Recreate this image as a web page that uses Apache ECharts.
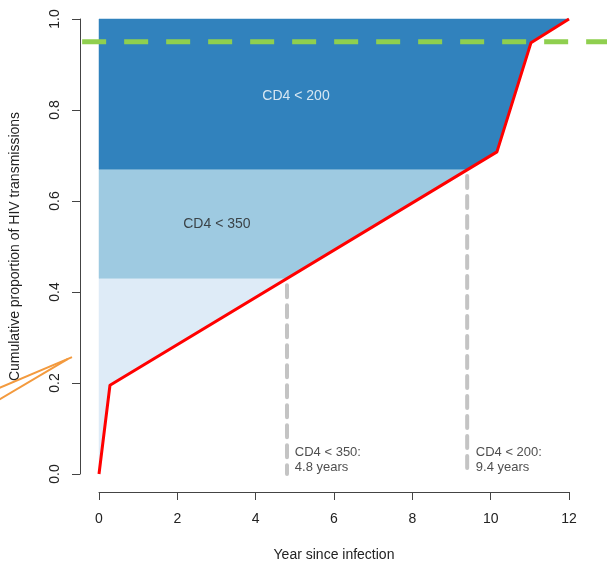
<!DOCTYPE html>
<html>
<head>
<meta charset="utf-8">
<script src="https://cdn.jsdelivr.net/npm/echarts@6/dist/echarts.min.js"></script>
<style>
html,body{margin:0;padding:0;background:#fff;}
#chart{width:607px;height:562px;}
</style>
</head>
<body>
<div id="chart"></div>
<script>
// ---- data ----
const curveX = [0, 0.28, 10.16, 11.03, 12];
const curveY = [0, 0.195, 0.708, 0.948, 1];
const bandBreaks = [0, 0.43, 0.67, 1];
const bandCrossX = [0, 4.8, 9.4, 12];
const bandColors = ['#deebf7', '#9ecae1', '#3182bd'];
const thresholdY = 0.95;
const thresholdSpan = [-0.43, 13.5];
const markYears = [4.8, 9.4];
const markTopY = [0.415, 0.655];
const markLabels = ['CD4 < 350:\n4.8 years', 'CD4 < 200:\n9.4 years'];
const markLabelPos = [[5.0, 0.032], [9.62, 0.032]];
const bandLabels = ['CD4 < 200', 'CD4 < 350'];
const bandLabelPos = [[5.03, 0.83], [3.01, 0.55]];
const bandLabelColors = ['#ffffff', '#222222'];
const strayLineA = [[-2.6, 0.187], [-0.689, 0.257]];
const strayLineB = [[-2.6, 0.161], [-0.791, 0.253]];
const xTicks = {min: 0, max: 12, interval: 2};
const yTicks = {min: 0, max: 1, interval: 0.2};

const FONT = 'Liberation Sans, Arial, sans-serif';

function bandPolygon(i) {
  const lo = bandBreaks[i], hi = bandBreaks[i + 1];
  const pts = [[0, lo], [0, hi], [bandCrossX[i + 1], hi]];
  for (let k = curveX.length - 1; k >= 0; k--) {
    if (curveY[k] < hi && curveY[k] > lo) pts.push([curveX[k], curveY[k]]);
  }
  pts.push([bandCrossX[i], lo]);
  return pts;
}

function segmentSeries(points, style, z) {
  return {
    type: 'custom', z: z, silent: true, clip: false,
    data: [[0]],
    renderItem: function (params, api) {
      return {
        type: 'polyline',
        shape: {points: points.map(p => api.coord(p))},
        style: Object.assign({fill: null}, style)
      };
    }
  };
}

const series = [];
series.push({
  type: 'custom',
  z: 1,
  silent: true,
  data: bandColors.map((c, i) => [i]),
  renderItem: function (params, api) {
    const i = api.value(0);
    const pts = bandPolygon(i).map(p => api.coord(p));
    return {
      type: 'polygon',
      shape: {points: pts},
      style: {fill: bandColors[i], stroke: bandColors[i], lineWidth: 0.5}
    };
  }
});
markYears.forEach((x, i) => {
  series.push({
    type: 'line', z: 2, silent: true, symbol: 'none',
    data: [[x, markTopY[i]], [x, 0]],
    lineStyle: {color: '#c4c4c4', width: 4, type: [12, 8], cap: 'round'}
  });
});
series.push({
  type: 'line', z: 3, silent: true, symbol: 'none',
  data: curveX.map((x, i) => [x, curveY[i]]),
  lineStyle: {color: '#ff0000', width: 3, join: 'round'}
});
series.push(segmentSeries(thresholdSpan.map(x => [x, thresholdY]),
  {stroke: '#8fcf4f', lineWidth: 5, lineDash: [24, 18]}, 4));
series.push(segmentSeries(strayLineA, {stroke: '#f39a3e', lineWidth: 2}, 5));
series.push(segmentSeries(strayLineB, {stroke: '#f39a3e', lineWidth: 2}, 5));
series.push({
  type: 'scatter', z: 6, silent: true, symbolSize: 0,
  data: bandLabels.map((t, i) => ({value: bandLabelPos[i], name: t,
    label: {color: bandLabelColors[i]}})),
  label: {show: true, position: 'inside', formatter: '{b}', fontSize: 14,
    fontFamily: FONT, align: 'center', verticalAlign: 'middle'}
});
series.push({
  type: 'scatter', z: 6, silent: true, symbolSize: 0,
  data: markLabels.map((t, i) => ({value: markLabelPos[i], name: t})),
  label: {show: true, position: 'right', distance: 0, formatter: '{b}', fontSize: 13,
    lineHeight: 15, color: '#222', fontFamily: FONT, align: 'left', verticalAlign: 'middle'}
});

const chart = echarts.init(document.getElementById('chart'), null, {renderer: 'canvas'});
chart.setOption({
  backgroundColor: '#ffffff',
  animation: false,
  grid: {left: 99, right: 38, top: 19, bottom: 88, containLabel: false, outerBoundsMode: 'none'},
  xAxis: {
    type: 'value', min: xTicks.min, max: xTicks.max, interval: xTicks.interval,
    offset: 18,
    name: 'Year since infection', nameLocation: 'middle', nameGap: 56,
    nameTextStyle: {fontSize: 14, color: '#222', fontFamily: FONT},
    axisLine: {show: true, onZero: false, lineStyle: {color: '#444', width: 1}},
    axisTick: {show: true, length: 8, lineStyle: {color: '#444'}},
    axisLabel: {fontSize: 14, color: '#222', fontFamily: FONT, margin: 20},
    splitLine: {show: false}
  },
  yAxis: {
    type: 'value', min: yTicks.min, max: yTicks.max, interval: yTicks.interval,
    offset: 19,
    name: 'Cumulative proportion of HIV transmissions', nameLocation: 'middle', nameGap: 58,
    nameTextStyle: {fontSize: 14, color: '#222', fontFamily: FONT},
    axisLine: {show: true, onZero: false, lineStyle: {color: '#444', width: 1}},
    axisTick: {show: true, length: 8, lineStyle: {color: '#444'}},
    axisLabel: {fontSize: 14, color: '#222', fontFamily: FONT, rotate: 90, margin: 18,
      formatter: v => v.toFixed(1)},
    splitLine: {show: false}
  },
  series: series
});
</script>
</body>
</html>
